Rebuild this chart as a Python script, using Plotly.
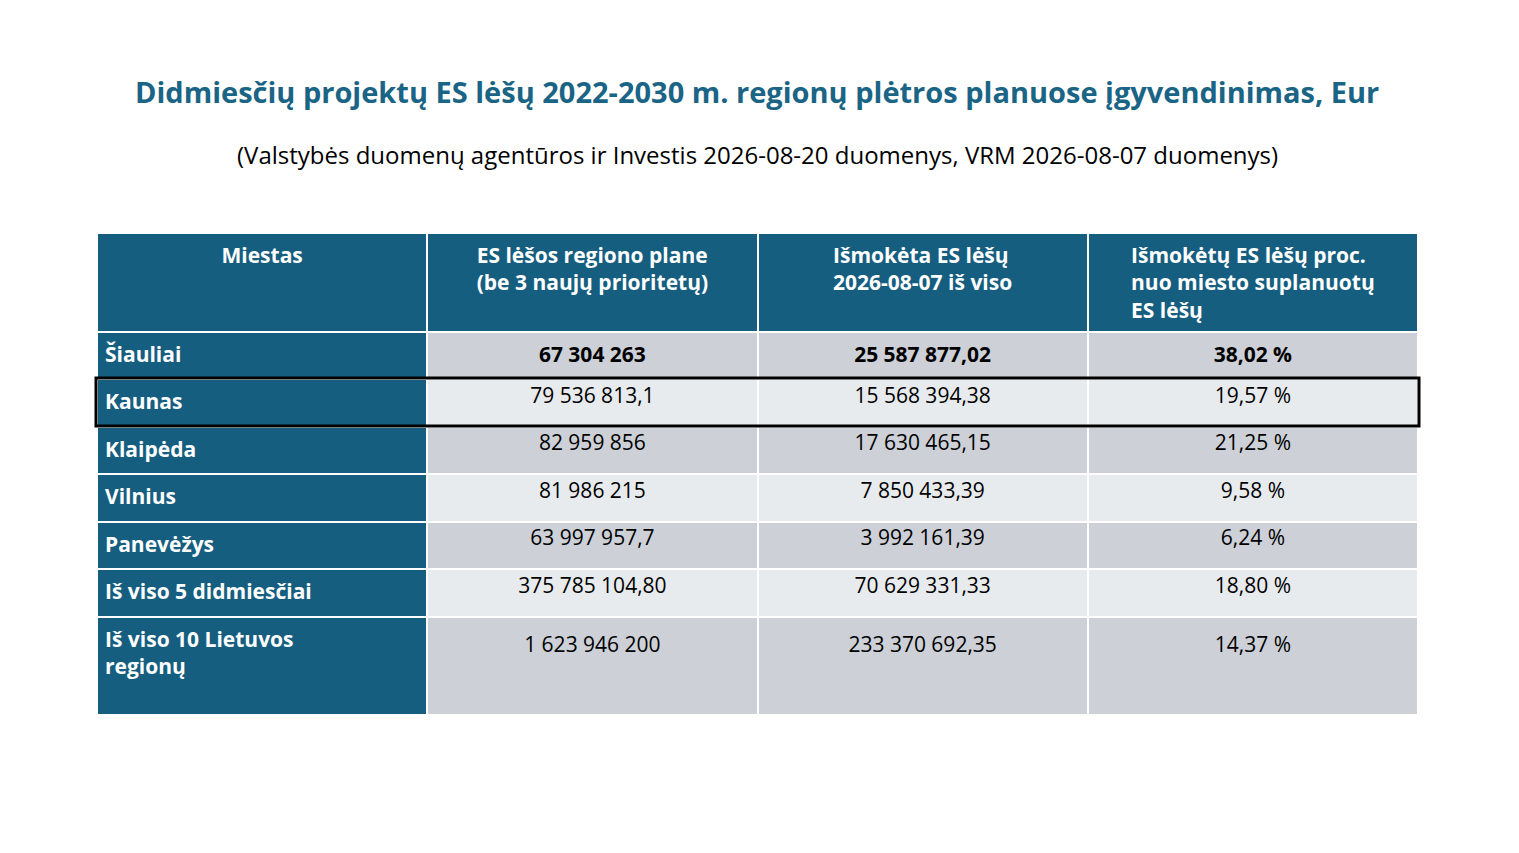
import plotly.graph_objects as go

W, H = 1519, 853
OFF = 8  # page body margin
headers = ["<br>Miestas<br> ", "ES lėšos regiono plane<br>(be 3 naujų prioritetų)",
           "Išmokėta ES lėšų<br>2026-08-07 iš viso",
           "Išmokėtų ES lėšų proc.<br>nuo miesto suplanuotų<br>ES lėšų"]
cities = ["Šiauliai", "Kaunas", "Klaipėda", "Vilnius", "Panevėžys",
          "Iš viso 5 didmiesčiai", "Iš viso 10 Lietuvos<br>regionų<br> "]
planned = ["67 304 263", "79 536 813,1", "82 959 856", "81 986 215",
           "63 997 957,7", "375 785 104,80", "<br>1 623 946 200<br> "]
paid = ["25 587 877,02", "15 568 394,38", "17 630 465,15", "7 850 433,39",
        "3 992 161,39", "70 629 331,33", "<br>233 370 692,35<br> "]
pct = ["38,02 %", "19,57 %", "21,25 %", "9,58 %", "6,24 %", "18,80 %", "<br>14,37 %<br> "]

def b(lst):
    return ["<b>" + lst[0] + "</b>"] + lst[1:]

blue = "#165E80"
grey, light = "#CDD1D7", "#E8EBEE"
alt = [grey if i % 2 == 0 else light for i in range(len(cities))]
F = "Open Sans"

fig = go.Figure(go.Table(
    domain=dict(x=[(97 - OFF) / W, (1418 - OFF) / W], y=[0, 1 - (233 - OFF) / H]),
    header=dict(values=["<b>" + h + "</b>" for h in headers],
                fill_color=blue, line=dict(color="white", width=2),
                font=dict(family=F, size=21, color="white"),
                align="center", height=95),
    cells=dict(values=[["<b>" + c + "</b>" for c in cities], b(planned), b(paid), b(pct)],
               fill_color=[[blue] * len(cities), alt, alt, alt],
               line=dict(color="white", width=2),
               font=dict(family=F, size=21, color=[["white"] * 7, ["black"] * 7, ["black"] * 7, ["black"] * 7]),
               align=["left", "center", "center", "center"], height=47.5),
))
fig.add_shape(type="rect", xref="paper", yref="paper",
              x0=(96 - OFF) / W, x1=(1419 - OFF) / W, y0=1 - (426 - OFF) / H, y1=1 - (378 - OFF) / H,
              line=dict(color="black", width=3))
fig.add_annotation(text="<b>Didmiesčių projektų ES lėšų 2022-2030 m. regionų plėtros planuose įgyvendinimas, Eur</b>",
                   x=(757 - OFF) / W, y=1 - (92 - OFF) / H, xref="paper", yref="paper", showarrow=False,
                   yanchor="middle", font=dict(family=F, size=29, color="#1A6485"))
fig.add_annotation(text="(Valstybės duomenų agentūros ir Investis 2026-08-20 duomenys, VRM 2026-08-07 duomenys)",
                   x=(757 - OFF) / W, y=1 - (154 - OFF) / H, xref="paper", yref="paper", showarrow=False,
                   yanchor="middle", font=dict(family=F, size=24, color="black"))
fig.update_layout(width=W, height=H, margin=dict(l=0, r=0, t=0, b=0),
                  paper_bgcolor="white", plot_bgcolor="white")
fig.write_html("out.html")
